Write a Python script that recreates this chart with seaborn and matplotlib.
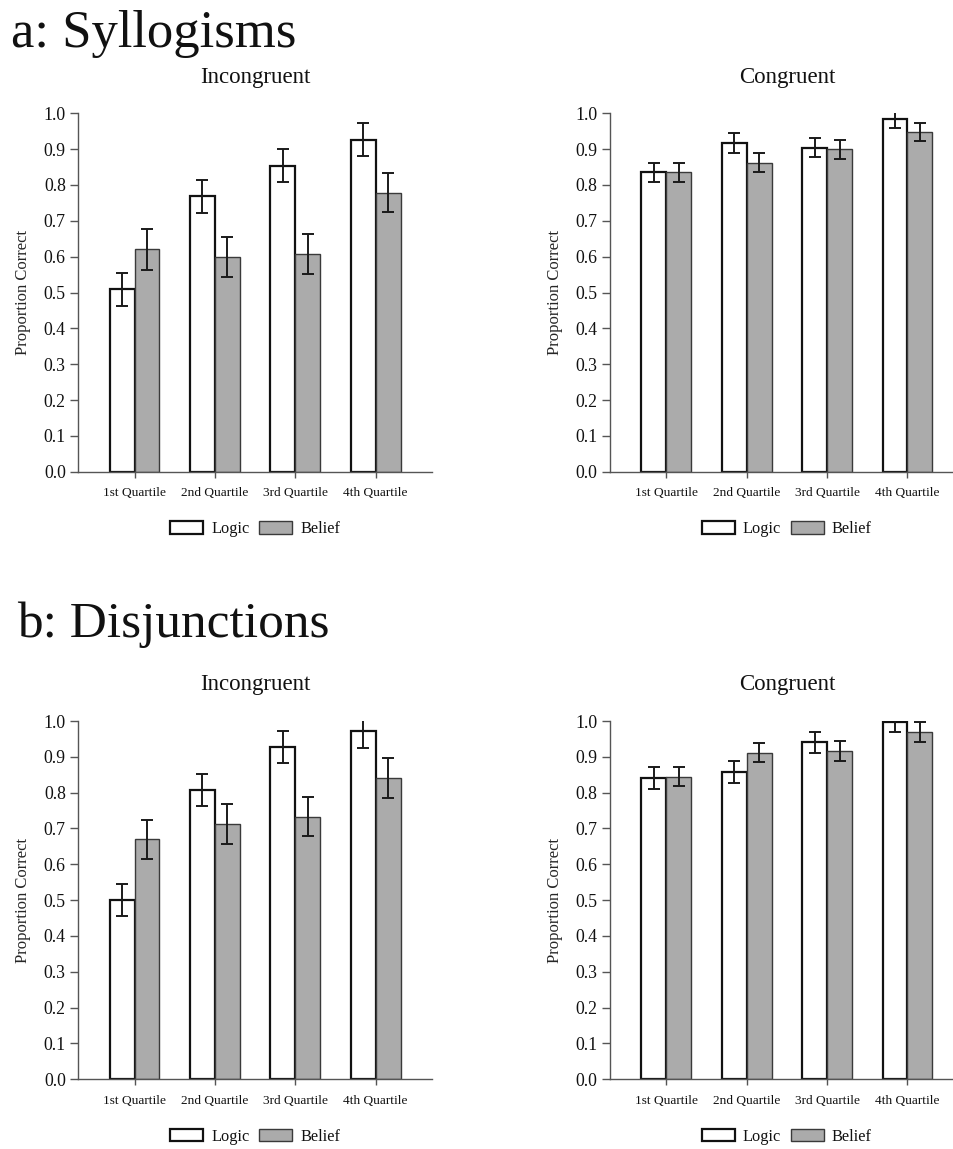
import numpy as np
import pandas as pd
import matplotlib
matplotlib.use("Agg")
import matplotlib.pyplot as plt
import seaborn as sns
from matplotlib.patches import Patch

# ---- data -------------------------------------------------------------
quartiles = ["1st Quartile", "2nd Quartile", "3rd Quartile", "4th Quartile"]
responses = ["Logic", "Belief"]
y_ticks = [0.0, 0.1, 0.2, 0.3, 0.4, 0.5, 0.6, 0.7, 0.8, 0.9, 1.0]

# a: Syllogisms
syl_incong_logic = [0.509, 0.769, 0.854, 0.926]
syl_incong_logic_se = [0.046, 0.046, 0.046, 0.046]
syl_incong_belief = [0.621, 0.599, 0.607, 0.779]
syl_incong_belief_se = [0.057, 0.056, 0.055, 0.055]

syl_cong_logic = [0.835, 0.917, 0.904, 0.985]
syl_cong_logic_se = [0.026, 0.028, 0.027, 0.025]
syl_cong_belief = [0.835, 0.862, 0.899, 0.949]
syl_cong_belief_se = [0.026, 0.027, 0.027, 0.025]

# b: Disjunctions
dis_incong_logic = [0.501, 0.808, 0.927, 0.972]
dis_incong_logic_se = [0.044, 0.044, 0.045, 0.046]
dis_incong_belief = [0.670, 0.712, 0.733, 0.840]
dis_incong_belief_se = [0.055, 0.056, 0.055, 0.056]

dis_cong_logic = [0.841, 0.858, 0.940, 0.998]
dis_cong_logic_se = [0.030, 0.030, 0.029, 0.028]
dis_cong_belief = [0.845, 0.912, 0.915, 0.970]
dis_cong_belief_se = [0.027, 0.027, 0.028, 0.028]

# ---- style ------------------------------------------------------------
sns.set_style("ticks")
plt.rcParams["font.family"] = ["Liberation Serif", "DejaVu Serif"]
plt.rcParams["text.color"] = "#111111"
plt.rcParams["xtick.labelcolor"] = "#111111"
plt.rcParams["ytick.labelcolor"] = "#111111"

BELIEF_GRAY = "#ababab"
SPINE = "#555555"

W, H = 954, 1149
fig = plt.figure(figsize=(W / 100, H / 100), dpi=100)


def px_axes(left, top, right, bottom):
    return fig.add_axes([left / W, 1 - bottom / H, (right - left) / W, (bottom - top) / H])


def panel(ax, logic, logic_se, belief, belief_se, title):
    df = pd.DataFrame({
        "quartile": quartiles * 2,
        "response": ["Logic"] * len(quartiles) + ["Belief"] * len(quartiles),
        "prop": logic + belief,
    })
    sns.barplot(data=df, x="quartile", y="prop", hue="response",
                order=quartiles, hue_order=responses,
                palette={"Logic": "white", "Belief": BELIEF_GRAY},
                saturation=1, width=0.62, errorbar=None, legend=False, ax=ax)

    styles = [("#111111", 1.6), ("#3a3a3a", 1.0)]
    for cont, se, (ec, lw) in zip(ax.containers, [logic_se, belief_se], styles):
        xs, ys = [], []
        for bar in cont:
            bar.set_edgecolor(ec)
            bar.set_linewidth(lw)
            xs.append(bar.get_x() + bar.get_width() / 2)
            ys.append(bar.get_height())
        ax.errorbar(xs, ys, yerr=se, fmt="none", ecolor="#1a1a1a",
                    elinewidth=1.4, capsize=4.3, capthick=1.4, zorder=5)

    ax.set_xlim(-0.7, 3.7)
    ax.set_ylim(0, 1.0)
    ax.set_yticks(y_ticks)
    ax.set_yticklabels([f"{t:.1f}" for t in y_ticks], fontsize=12.8)
    ax.set_xticks(range(len(quartiles)))
    ax.set_xticklabels(quartiles, fontsize=9.6)
    ax.tick_params(axis="y", direction="out", length=6, width=1, color=SPINE, pad=3)
    ax.tick_params(axis="x", direction="out", length=4, width=1, color=SPINE, pad=7)
    for s in ("top", "right"):
        ax.spines[s].set_visible(False)
    for s in ("left", "bottom"):
        ax.spines[s].set_color(SPINE)
        ax.spines[s].set_linewidth(1.0)
    ax.set_xlabel("")
    ax.set_ylabel("Proportion Correct", fontsize=12, labelpad=9)
    ax.set_title(title, fontsize=16.5, pad=22)

    handles = [Patch(facecolor="white", edgecolor="#111111", linewidth=1.6),
               Patch(facecolor=BELIEF_GRAY, edgecolor="#3a3a3a", linewidth=1.0)]
    ax.legend(handles, responses, loc="center", bbox_to_anchor=(0.5, -0.16),
              ncol=2, frameon=False, fontsize=11.8, handlelength=2.0,
              handleheight=0.8, handletextpad=0.5, columnspacing=0.6)


ax1 = px_axes(78.3, 113.3, 432, 471.7)
ax2 = px_axes(610, 113.3, 963.7, 471.7)
ax3 = px_axes(78.3, 721, 432, 1079.3)
ax4 = px_axes(610, 721, 963.7, 1079.3)

panel(ax1, syl_incong_logic, syl_incong_logic_se, syl_incong_belief, syl_incong_belief_se, "Incongruent")
panel(ax2, syl_cong_logic, syl_cong_logic_se, syl_cong_belief, syl_cong_belief_se, "Congruent")
panel(ax3, dis_incong_logic, dis_incong_logic_se, dis_incong_belief, dis_incong_belief_se, "Incongruent")
panel(ax4, dis_cong_logic, dis_cong_logic_se, dis_cong_belief, dis_cong_belief_se, "Congruent")

fig.text(11 / W, 1 - 47 / H, "a: Syllogisms", fontsize=38, va="baseline", ha="left")
fig.text(17 / W, 1 - 637 / H, "b: Disjunctions", fontsize=37, va="baseline", ha="left")

fig.savefig("out.png", dpi=100, facecolor="white")
